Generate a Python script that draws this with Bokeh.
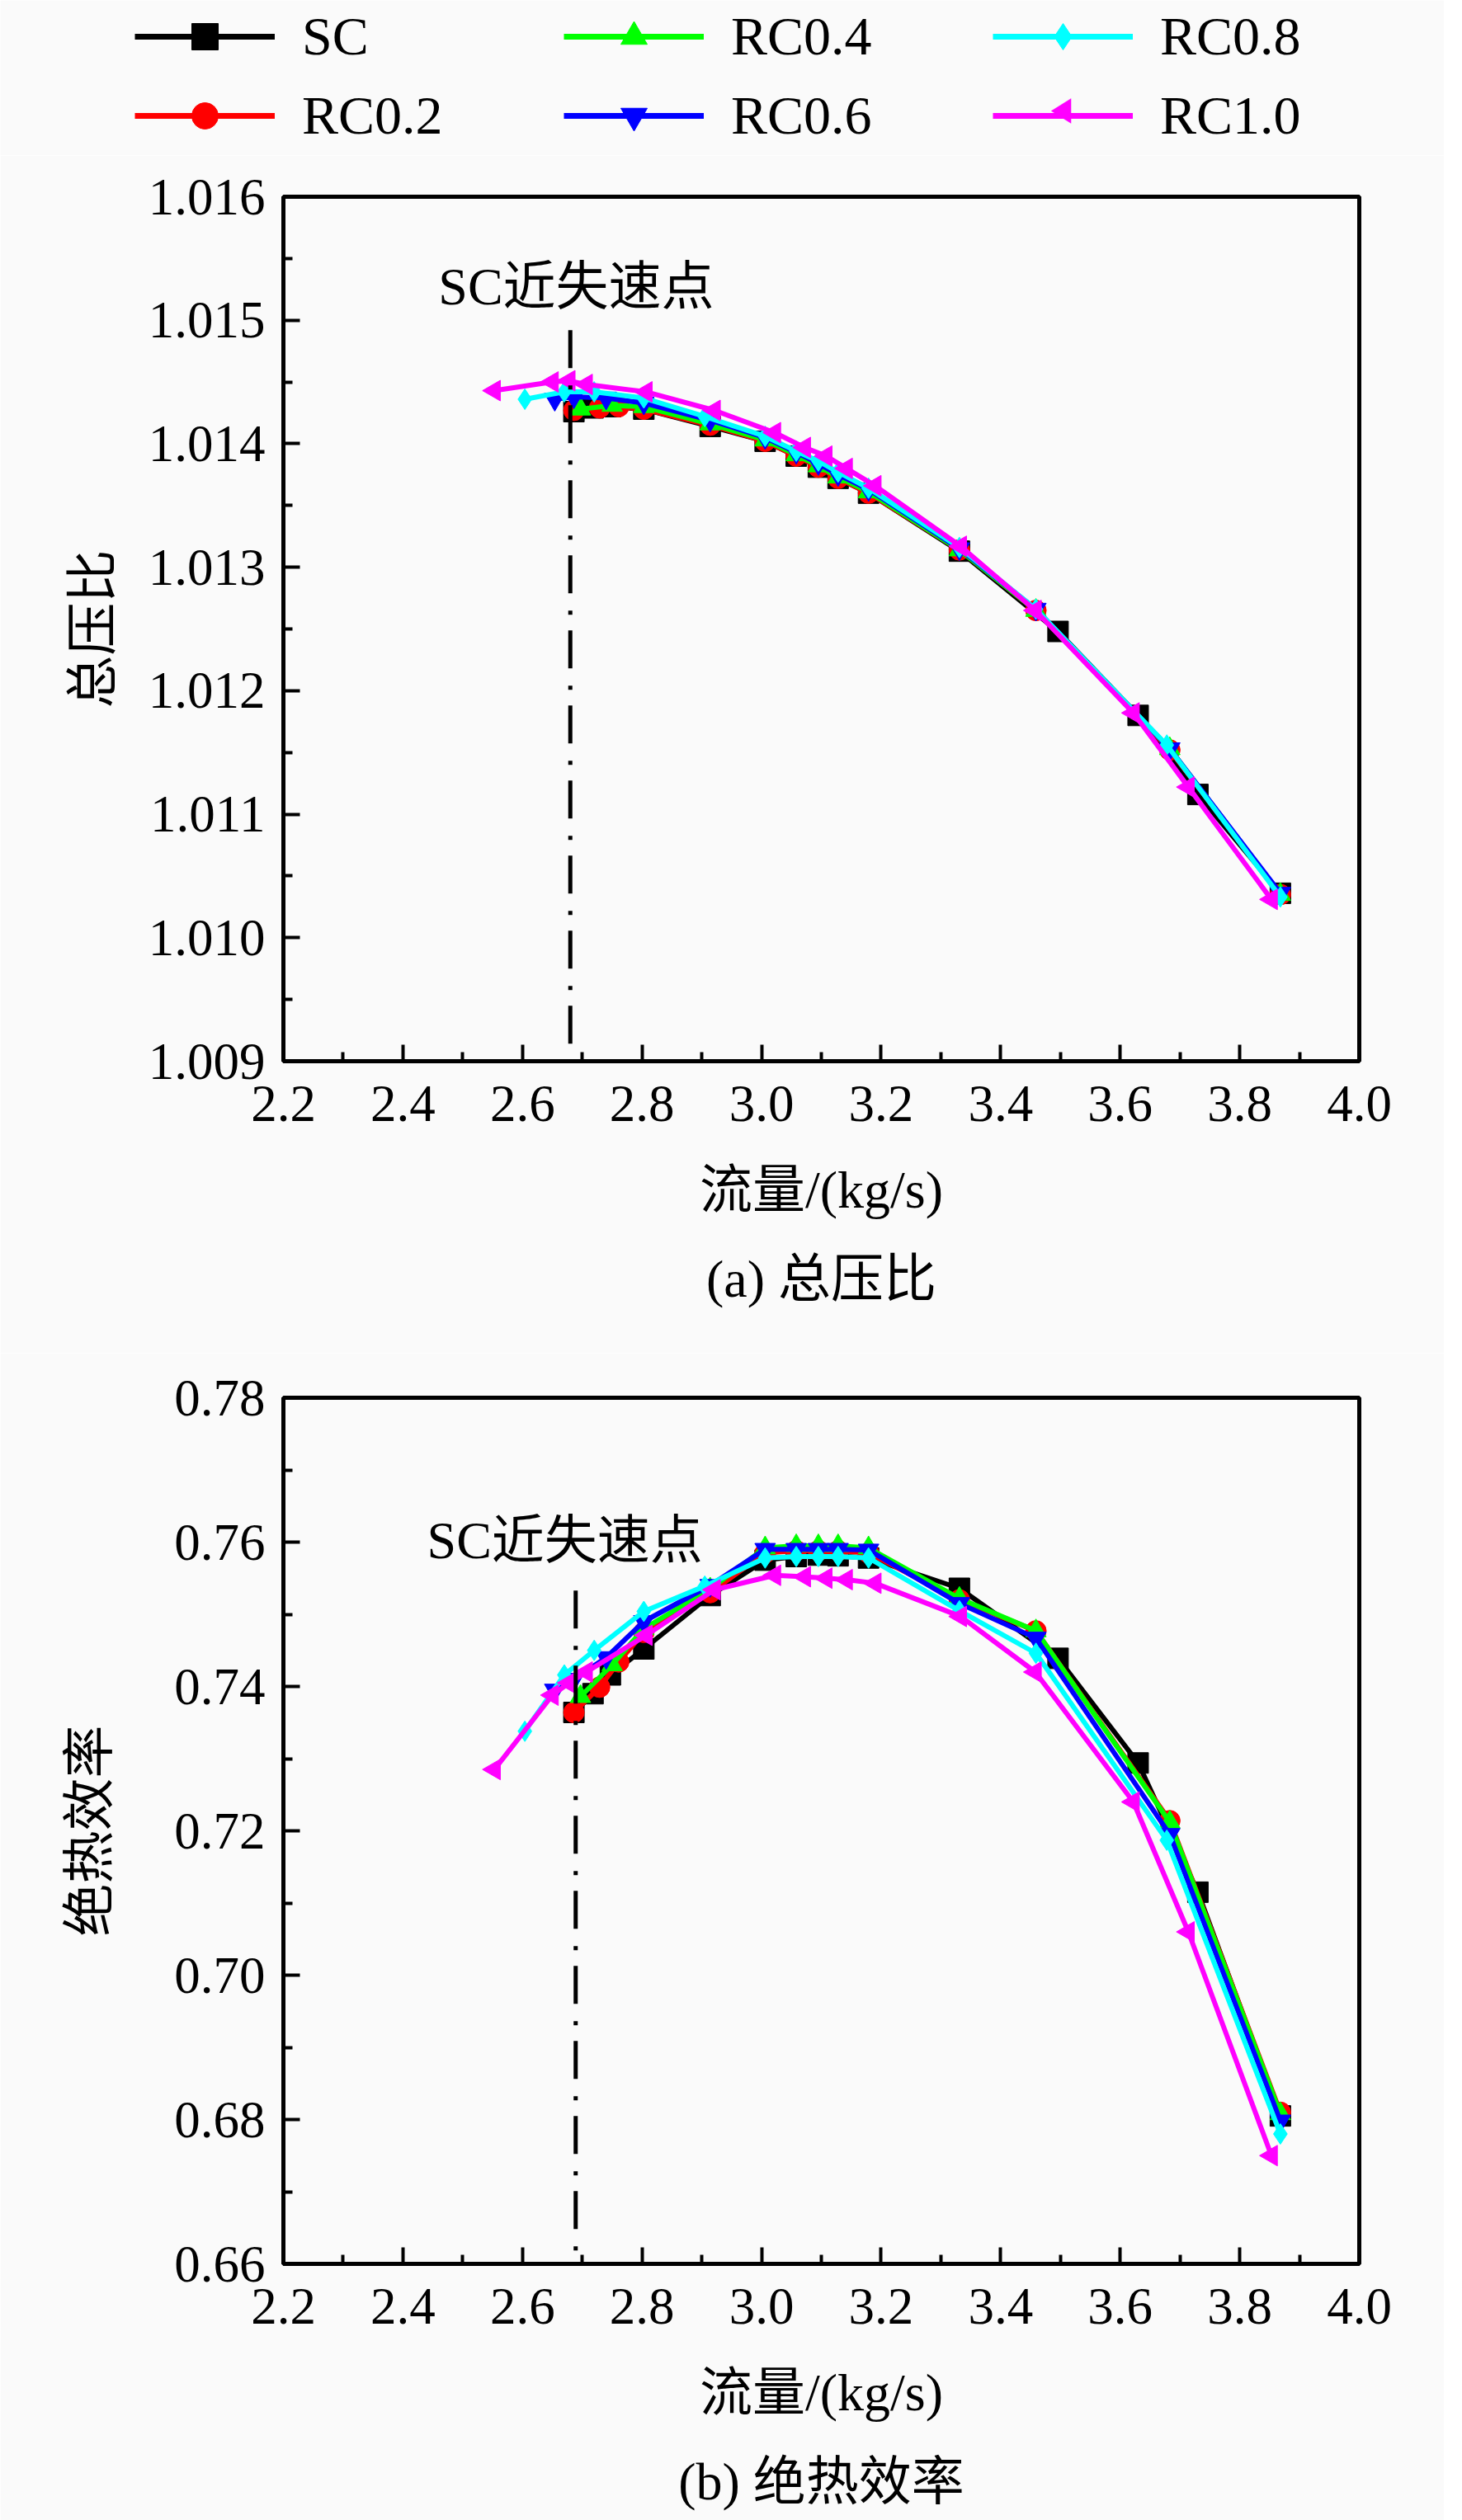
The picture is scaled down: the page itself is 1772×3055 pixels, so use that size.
import numpy as np
from bokeh.plotting import figure
from bokeh.layouts import column
from bokeh.models import (Range1d, FixedTicker, PrintfTickFormatter, Legend,
                          LegendItem, Label, Title, PolyAnnotation)
from bokeh.embed import file_html
from bokeh.resources import INLINE

# ---------------- data ----------------
SERIES = ["SC", "RC0.2", "RC0.4", "RC0.6", "RC0.8", "RC1.0"]

flow_sc = [2.686, 2.718, 2.747, 2.803, 2.914, 3.006, 3.058, 3.095, 3.128, 3.179, 3.331, 3.496, 3.630, 3.730, 3.868]
pr_sc = [1.01426, 1.01429, 1.01430, 1.01428, 1.01414, 1.01402, 1.01390, 1.01381, 1.01372, 1.01360, 1.01313, 1.01248, 1.01180, 1.01116, 1.01036]
eff_sc = [0.7364, 0.7390, 0.7416, 0.7452, 0.7526, 0.7575, 0.7580, 0.7582, 0.7581, 0.7578, 0.7536, 0.7439, 0.7294, 0.7115, 0.6805]

flow_rc02 = [2.686, 2.729, 2.761, 2.803, 2.914, 3.006, 3.058, 3.095, 3.128, 3.179, 3.331, 3.459, 3.683, 3.868]
pr_rc02 = [1.01427, 1.01429, 1.01430, 1.01428, 1.01415, 1.01402, 1.01390, 1.01381, 1.01372, 1.01360, 1.01314, 1.01265, 1.01152, 1.01035]
eff_rc02 = [0.7364, 0.7399, 0.7434, 0.7475, 0.7530, 0.7585, 0.7588, 0.7588, 0.7588, 0.7585, 0.7520, 0.7477, 0.7214, 0.6810]

flow_rc04 = [2.697, 2.750, 2.803, 2.914, 3.006, 3.058, 3.095, 3.128, 3.179, 3.331, 3.459, 3.683, 3.868]
pr_rc04 = [1.01428, 1.01431, 1.01430, 1.01416, 1.01403, 1.01391, 1.01382, 1.01373, 1.01361, 1.01314, 1.01265, 1.01153, 1.01035]
eff_rc04 = [0.7386, 0.7430, 0.7480, 0.7535, 0.7592, 0.7595, 0.7595, 0.7595, 0.7592, 0.7522, 0.7477, 0.7212, 0.6808]

flow_rc06 = [2.654, 2.686, 2.740, 2.803, 2.914, 3.006, 3.058, 3.095, 3.128, 3.179, 3.331, 3.459, 3.683, 3.868]
pr_rc06 = [1.01436, 1.01438, 1.01437, 1.01433, 1.01419, 1.01405, 1.01393, 1.01384, 1.01375, 1.01363, 1.01315, 1.01266, 1.01153, 1.01036]
eff_rc06 = [0.7395, 0.7410, 0.7440, 0.7490, 0.7540, 0.7590, 0.7590, 0.7590, 0.7590, 0.7589, 0.7515, 0.7467, 0.7195, 0.6798]

flow_rc08 = [2.604, 2.670, 2.720, 2.803, 2.905, 3.006, 3.058, 3.095, 3.128, 3.179, 3.331, 3.459, 3.678, 3.868]
pr_rc08 = [1.01436, 1.01442, 1.01442, 1.01437, 1.01422, 1.01406, 1.01394, 1.01386, 1.01377, 1.01364, 1.01316, 1.01266, 1.01156, 1.01033]
eff_rc08 = [0.7338, 0.7416, 0.7450, 0.7504, 0.7539, 0.7578, 0.7580, 0.7580, 0.7580, 0.7578, 0.7505, 0.7446, 0.7187, 0.6780]

flow_rc10 = [2.553, 2.650, 2.678, 2.707, 2.807, 2.921, 3.022, 3.072, 3.108, 3.142, 3.190, 3.333, 3.458, 3.622, 3.714, 3.853]
pr_rc10 = [1.01443, 1.01450, 1.01451, 1.01448, 1.01442, 1.01427, 1.01409, 1.01397, 1.01390, 1.01380, 1.01366, 1.01317, 1.01265, 1.01182, 1.01122, 1.01031]
eff_rc10 = [0.7285, 0.7388, 0.7405, 0.7420, 0.7471, 0.7534, 0.7554, 0.7552, 0.7550, 0.7548, 0.7543, 0.7497, 0.7420, 0.7240, 0.7060, 0.6750]

FLOWS = [flow_sc, flow_rc02, flow_rc04, flow_rc06, flow_rc08, flow_rc10]
PRS = [pr_sc, pr_rc02, pr_rc04, pr_rc06, pr_rc08, pr_rc10]
EFFS = [eff_sc, eff_rc02, eff_rc04, eff_rc06, eff_rc08, eff_rc10]

X_TICKS = [2.2, 2.4, 2.6, 2.8, 3.0, 3.2, 3.4, 3.6, 3.8, 4.0]
X_MINOR = [2.3, 2.5, 2.7, 2.9, 3.1, 3.3, 3.5, 3.7, 3.9]
PR_TICKS = [1.009, 1.010, 1.011, 1.012, 1.013, 1.014, 1.015, 1.016]
PR_MINOR = [1.0095, 1.0105, 1.0115, 1.0125, 1.0135, 1.0145, 1.0155]
EFF_TICKS = [0.66, 0.68, 0.70, 0.72, 0.74, 0.76, 0.78]
EFF_MINOR = [0.67, 0.69, 0.71, 0.73, 0.75, 0.77]

# stall-point marker line and note (data coordinates)
STALL_PR = {"x": 2.680, "y_top": 1.01492, "note_x": 2.690, "note_y": 1.01527}
STALL_EFF = {"x": 2.689, "y_top": 0.7533, "note_x": 2.671, "note_y": 0.7602}
NOTE_TEXT = "SC近失速点"

# ---------------- style ----------------
COLORS = ["#000000", "#FF0000", "#00FF00", "#0000FF", "#00FFFF", "#FF00FF"]
MARKERS = ["square", "circle", "triangle", "inverted_triangle", "diamond", "triangle"]
ANGLES = [0, 0, 0, 0, 0, np.pi / 2]
FONT = "'Liberation Serif', 'Noto Sans CJK SC'"
BG = "#FAFAFA"
W = 1750
LW = 6
MS = 25


def make_fig(ys, yr, yticks, yminor, yfmt, height, top, bottom, ylabel, ylabel_standoff,
             caption, stall):
    p = figure(width=W, height=height, output_backend="svg", toolbar_location=None,
               x_range=Range1d(2.2, 4.0), y_range=Range1d(*yr),
               min_border_left=343, min_border_right=103,
               min_border_top=top, min_border_bottom=bottom)
    p.background_fill_color = BG
    p.border_fill_color = BG
    p.grid.visible = False
    p.outline_line_color = "black"
    p.outline_line_width = 5
    p.outline_line_alpha = 1

    p.xaxis.ticker = FixedTicker(ticks=X_TICKS, minor_ticks=X_MINOR)
    p.xaxis.formatter = PrintfTickFormatter(format="%.1f")
    p.yaxis.ticker = FixedTicker(ticks=yticks, minor_ticks=yminor)
    p.yaxis.formatter = PrintfTickFormatter(format=yfmt)
    for ax in (p.xaxis, p.yaxis):
        ax.axis_line_width = 5
        ax.axis_line_color = "black"
        ax.major_tick_in = 20
        ax.major_tick_out = 0
        ax.minor_tick_in = 11
        ax.minor_tick_out = 0
        ax.major_tick_line_width = 4
        ax.minor_tick_line_width = 4
        ax.major_label_text_font = FONT
        ax.major_label_text_font_size = "63px"
        ax.major_label_text_color = "black"
        ax.axis_label_text_font = FONT
        ax.axis_label_text_font_size = "64px"
        ax.axis_label_text_font_style = "normal"
        ax.axis_label_text_color = "black"
    p.xaxis.major_label_standoff = 30
    p.yaxis.major_label_standoff = 22
    p.xaxis.axis_label = "流量/(kg/s)"
    p.xaxis.axis_label_standoff = 45
    p.yaxis.axis_label = ylabel
    p.yaxis.axis_label_standoff = ylabel_standoff

    cap = Title(text=caption, align="center", text_font=FONT, text_font_size="64px",
                text_font_style="normal", text_color="black", standoff=64)
    p.add_layout(cap, "below")

    renderers = []
    for flow, y, c, m, a in zip(FLOWS, ys, COLORS, MARKERS, ANGLES):
        rl = p.line(flow, y, line_color=c, line_width=LW)
        rs = p.scatter(flow, y, marker=m, size=MS, angle=a, fill_color=c, line_color=c)
        renderers.append((rl, rs))

    p.segment(x0=[stall["x"]], y0=[stall["y_top"]], x1=[stall["x"]], y1=[yr[0]],
              line_color="black", line_width=5, line_dash="46 21 5 19")
    p.add_layout(Label(x=stall["note_x"], y=stall["note_y"], text=NOTE_TEXT,
                       text_font=FONT, text_font_size="64px", text_color="black",
                       text_align="center", text_baseline="middle"))
    return p, renderers


# ---------------- legend strip (own root, full-width frame) ----------------
LH = 188
lf = figure(width=W, height=LH, output_backend="svg", toolbar_location=None,
            x_range=Range1d(0, 1), y_range=Range1d(0, 1),
            x_axis_type=None, y_axis_type=None,
            min_border_left=0, min_border_right=0, min_border_top=0, min_border_bottom=0)
lf.background_fill_color = BG
lf.border_fill_color = BG
lf.outline_line_color = None
lf.grid.visible = False
NOPT = np.array([np.nan])
items = []
for name, c, m, a in zip(SERIES, COLORS, MARKERS, ANGLES):
    rl = lf.line(NOPT, NOPT, line_color=c, line_width=LW + 1)
    rends = [rl]
    if a == 0:
        rends.append(lf.scatter(NOPT, NOPT, marker=m, size=MS + 3, fill_color=c, line_color=c))
    items.append(LegendItem(label=name, renderers=rends))
legend = Legend(items=items, orientation="vertical", nrows=2,
                location=(163, 8),
                glyph_width=170, glyph_height=80, label_height=80, label_width=301,
                label_standoff=33, spacing=16, padding=0, margin=0,
                label_text_font="Liberation Serif", label_text_font_size="66px",
                label_text_color="black",
                border_line_alpha=0, background_fill_alpha=0)
lf.add_layout(legend, "center")

# left-pointing triangle for the RC1.0 legend sample (screen units, frame-relative, y up)
TRI_CX, TRI_CY, TRI_W, TRI_H = 1288, 54, 24, 30
lf.add_layout(PolyAnnotation(xs=[TRI_CX - TRI_W * 0.6, TRI_CX + TRI_W * 0.4, TRI_CX + TRI_W * 0.4],
                             ys=[TRI_CY, TRI_CY + TRI_H / 2, TRI_CY - TRI_H / 2],
                             xs_units="screen", ys_units="screen",
                             fill_color=COLORS[5], fill_alpha=1,
                             line_color=COLORS[5], line_width=1))

p1, r1 = make_fig(PRS, (1.009, 1.016), PR_TICKS, PR_MINOR, "%.3f", 1640 - LH, 50, 354,
                  "总压比", 29, "(a) 总压比", STALL_PR)
# the second panel is allowed to run past the window bottom (only empty border is cut)
p2, r2 = make_fig(EFFS, (0.66, 0.78), EFF_TICKS, EFF_MINOR, "%.2f", 1445, 54, 341,
                  "绝热效率", 64, "(b) 绝热效率", STALL_EFF)

layout = column(p1, p2, spacing=0)
html = file_html([lf, layout], INLINE)
html = html.replace(
    "<body>",
    '<body style="background-color:#FAFAFA; margin:0 8px 0 8px; overflow:hidden;">', 1)
with open("out.html", "w") as f:
    f.write(html)
